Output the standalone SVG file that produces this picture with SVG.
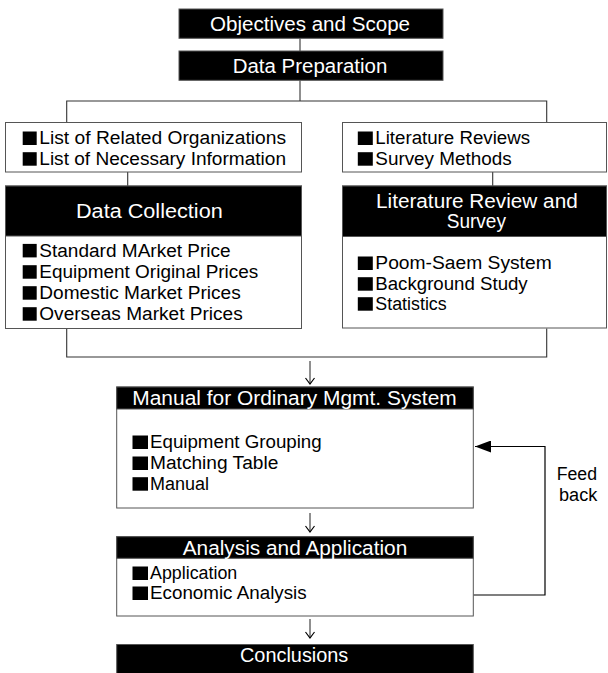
<svg xmlns="http://www.w3.org/2000/svg" width="608" height="673" viewBox="0 0 608 673">
<style>
.hdr{fill:#000;stroke:#555;stroke-width:1}
.box{fill:#fff;stroke:#555;stroke-width:1}
.ht{font-family:"Liberation Sans",Arial,sans-serif;font-size:20px;fill:#fff}
.bt{font-family:"Liberation Sans",Arial,sans-serif;font-size:18px;fill:#000}
.sq{fill:#000}
.ln{stroke:#333;stroke-width:1.1;fill:none}
</style>
<defs>
<marker id="vee" viewBox="-8 -6 9 12" markerWidth="9" markerHeight="12" refX="0" refY="0" orient="auto" markerUnits="userSpaceOnUse">
<path d="M-6,-4.5 L0,0 L-6,4.5" fill="none" stroke="#000" stroke-width="1.2"/>
</marker>
<marker id="tri" viewBox="-16 -6 16 12" markerWidth="16" markerHeight="12" refX="0" refY="0" orient="auto" markerUnits="userSpaceOnUse">
<path d="M-16,-6 L0,0 L-16,6 Z" fill="#000"/>
</marker>
</defs>

<g id="connectors">
<path class="ln" d="M300,38.3 V51"/>
<path class="ln" d="M300,80.3 V101"/>
<path class="ln" d="M66.7,122.3 V101 H546.7 V122.3"/>
<path class="ln" d="M127.7,172 V186"/>
<path class="ln" d="M492.7,172 V186"/>
<path class="ln" d="M66.7,328.5 V357 H546.7 V328.5"/>
<path class="ln" d="M310,361 V384" marker-end="url(#vee)"/>
<path class="ln" d="M310,513 V532" marker-end="url(#vee)"/>
<path class="ln" d="M310,619 V638" marker-end="url(#vee)"/>
<path d="M473.3,595 H545 V446.5 H475" fill="none" stroke="#000" stroke-width="1.2" marker-end="url(#tri)"/>
<text class="bt" x="556.7" y="480" textLength="40.3" lengthAdjust="spacingAndGlyphs">Feed</text>
<text class="bt" x="559" y="501" textLength="38.3" lengthAdjust="spacingAndGlyphs">back</text>
</g>

<g id="objectives">
<rect class="hdr" x="179" y="9" width="264" height="29.3"/>
<text class="ht" x="210" y="31" textLength="200" lengthAdjust="spacingAndGlyphs">Objectives and Scope</text>
</g>

<g id="data-preparation">
<rect class="hdr" x="179" y="51" width="264" height="29.3"/>
<text class="ht" x="232.7" y="73" textLength="154.6" lengthAdjust="spacingAndGlyphs">Data Preparation</text>
</g>

<g id="related-lists">
<rect class="box" x="5.5" y="122.5" width="296" height="49.5"/>
<rect class="sq" x="22.7" y="131.5" width="14" height="13.5"/>
<rect class="sq" x="22.7" y="152.2" width="14" height="13.5"/>
<text class="bt" y="144.3"><tspan x="25">■</tspan><tspan x="39.3" textLength="246.7" lengthAdjust="spacingAndGlyphs">List of Related Organizations</tspan></text>
<text class="bt" y="165"><tspan x="25">■</tspan><tspan x="39.3" textLength="246.7" lengthAdjust="spacingAndGlyphs">List of Necessary Information</tspan></text>
</g>

<g id="data-collection">
<rect class="box" x="5.5" y="186" width="296" height="142.5"/>
<rect class="hdr" x="5.5" y="186" width="296" height="50"/>
<text class="ht" x="76" y="218" textLength="146.7" lengthAdjust="spacingAndGlyphs">Data Collection</text>
<rect class="sq" x="22.7" y="243.9" width="14" height="13.5"/>
<rect class="sq" x="22.7" y="265.2" width="14" height="13.5"/>
<rect class="sq" x="22.7" y="286.2" width="14" height="13.5"/>
<rect class="sq" x="22.7" y="307.2" width="14" height="13.5"/>
<text class="bt" y="256.7"><tspan x="25">■</tspan><tspan x="39.3" textLength="191.4" lengthAdjust="spacingAndGlyphs">Standard MArket Price</tspan></text>
<text class="bt" y="278"><tspan x="25">■</tspan><tspan x="39.3" textLength="219" lengthAdjust="spacingAndGlyphs">Equipment Original Prices</tspan></text>
<text class="bt" y="299"><tspan x="25">■</tspan><tspan x="39.3" textLength="201.4" lengthAdjust="spacingAndGlyphs">Domestic Market Prices</tspan></text>
<text class="bt" y="320"><tspan x="25">■</tspan><tspan x="39.3" textLength="203.4" lengthAdjust="spacingAndGlyphs">Overseas Market Prices</tspan></text>
</g>

<g id="literature-lists">
<rect class="box" x="342.5" y="122.5" width="264" height="49.5"/>
<rect class="sq" x="357.8" y="131.5" width="15" height="13.5"/>
<rect class="sq" x="357.8" y="152.2" width="15" height="13.5"/>
<text class="bt" y="144.3"><tspan x="360.5">■</tspan><tspan x="375.3" textLength="154.7" lengthAdjust="spacingAndGlyphs">Literature Reviews</tspan></text>
<text class="bt" y="165"><tspan x="360.5">■</tspan><tspan x="375.3" textLength="136.4" lengthAdjust="spacingAndGlyphs">Survey Methods</tspan></text>
</g>

<g id="literature-review">
<rect class="box" x="342.5" y="186" width="264" height="142"/>
<rect class="hdr" x="342.5" y="186" width="264" height="50.5"/>
<text class="ht" x="376" y="207.7" textLength="201.7" lengthAdjust="spacingAndGlyphs">Literature Review and</text>
<text class="ht" x="446.7" y="228.3" textLength="59.3" lengthAdjust="spacingAndGlyphs">Survey</text>
<rect class="sq" x="357.8" y="256.5" width="15" height="13.5"/>
<rect class="sq" x="357.8" y="277.2" width="15" height="13.5"/>
<rect class="sq" x="357.8" y="297.2" width="15" height="13.5"/>
<text class="bt" y="269.3"><tspan x="360.5">■</tspan><tspan x="375.3" textLength="176.4" lengthAdjust="spacingAndGlyphs">Poom-Saem System</tspan></text>
<text class="bt" y="290"><tspan x="360.5">■</tspan><tspan x="375.3" textLength="152.4" lengthAdjust="spacingAndGlyphs">Background Study</tspan></text>
<text class="bt" y="310"><tspan x="360.5">■</tspan><tspan x="375.3" textLength="71.4" lengthAdjust="spacingAndGlyphs">Statistics</tspan></text>
</g>

<g id="manual">
<rect class="box" x="116.7" y="387" width="356.6" height="121"/>
<rect class="hdr" x="116.7" y="387" width="356.6" height="22"/>
<text class="ht" x="132.3" y="405" textLength="324.4" lengthAdjust="spacingAndGlyphs">Manual for Ordinary Mgmt. System</text>
<rect class="sq" x="132.5" y="435.5" width="15.5" height="13.5"/>
<rect class="sq" x="132.5" y="456.5" width="15.5" height="13.5"/>
<rect class="sq" x="132.5" y="477.2" width="15.5" height="13.5"/>
<text class="bt" y="448.3"><tspan x="135.5">■</tspan><tspan x="150" textLength="171.7" lengthAdjust="spacingAndGlyphs">Equipment Grouping</tspan></text>
<text class="bt" y="469.3"><tspan x="135.5">■</tspan><tspan x="150" textLength="128.3" lengthAdjust="spacingAndGlyphs">Matching Table</tspan></text>
<text class="bt" y="490"><tspan x="135.5">■</tspan><tspan x="150" textLength="59" lengthAdjust="spacingAndGlyphs">Manual</tspan></text>
</g>

<g id="analysis">
<rect class="box" x="116.7" y="536.7" width="356.6" height="79.3"/>
<rect class="hdr" x="116.7" y="536.7" width="356.6" height="21.6"/>
<text class="ht" x="182.7" y="555" textLength="224.6" lengthAdjust="spacingAndGlyphs">Analysis and Application</text>
<rect class="sq" x="132.5" y="566.5" width="15.5" height="13.5"/>
<rect class="sq" x="132.5" y="586.5" width="15.5" height="13.5"/>
<text class="bt" y="579.3"><tspan x="135.5">■</tspan><tspan x="150" textLength="87.3" lengthAdjust="spacingAndGlyphs">Application</tspan></text>
<text class="bt" y="599.3"><tspan x="135.5">■</tspan><tspan x="150" textLength="156.7" lengthAdjust="spacingAndGlyphs">Economic Analysis</tspan></text>
</g>

<g id="conclusions">
<rect class="hdr" x="116.7" y="644.5" width="356.6" height="29"/>
<text class="ht" x="240" y="662" textLength="108.3" lengthAdjust="spacingAndGlyphs">Conclusions</text>
</g>
</svg>
